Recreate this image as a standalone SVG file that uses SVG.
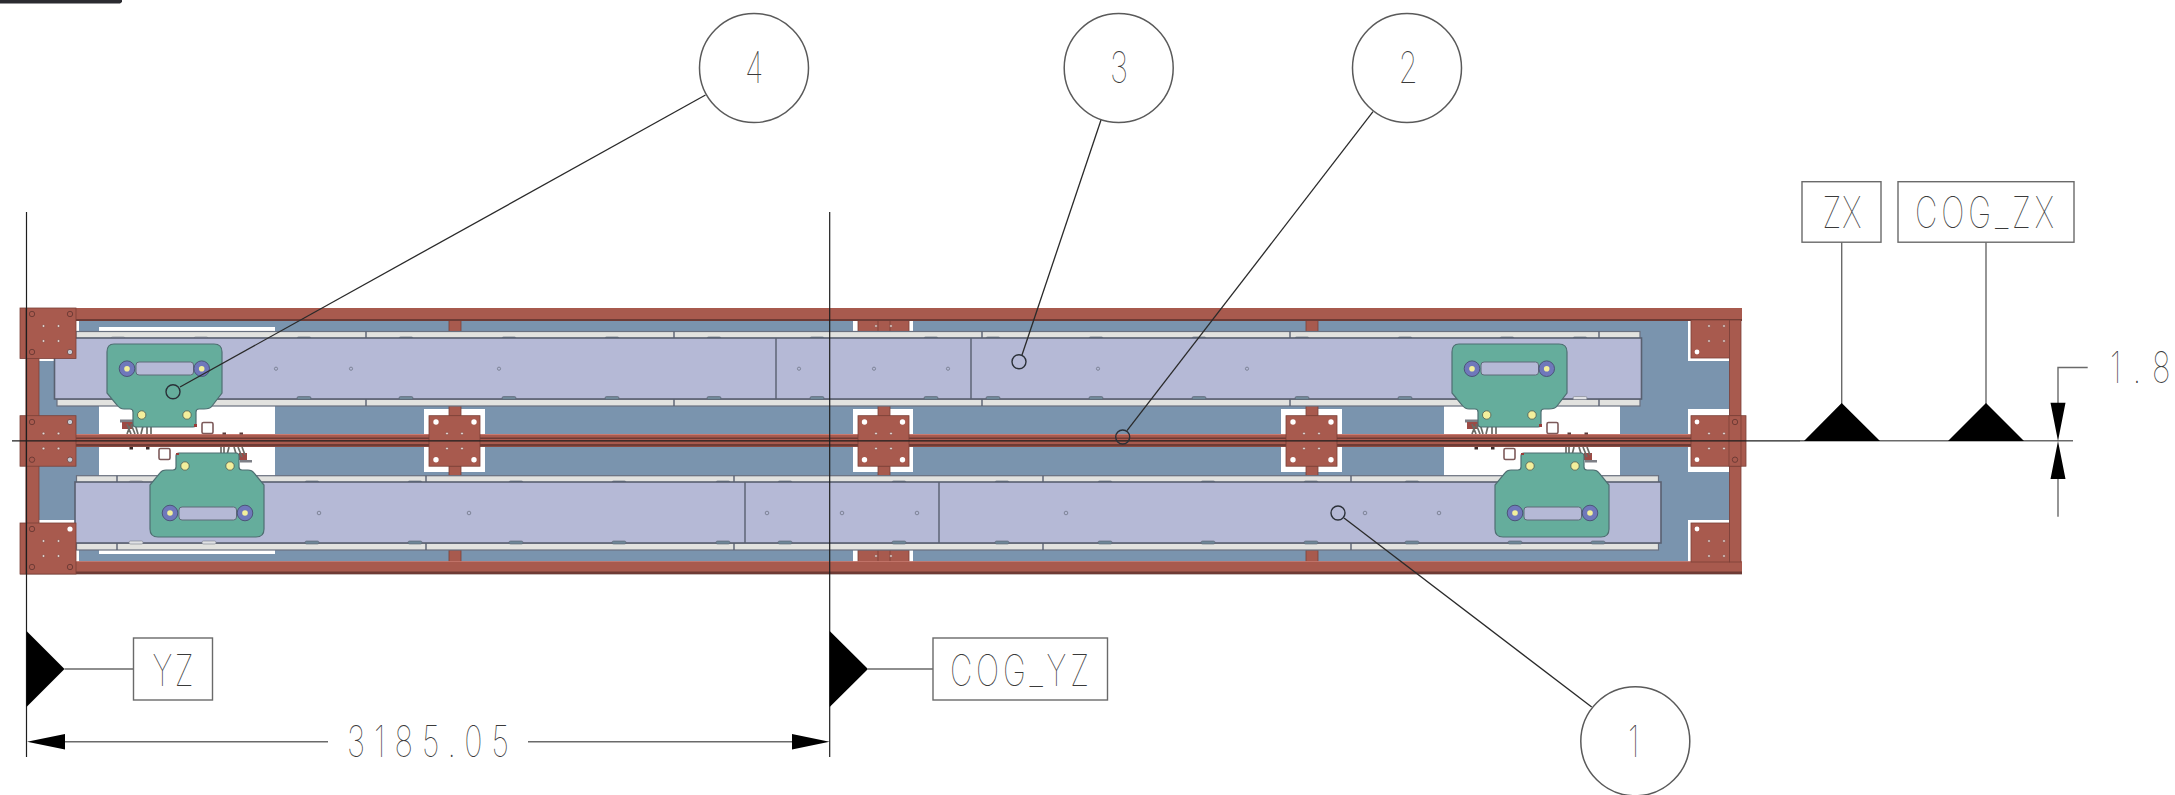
<svg xmlns="http://www.w3.org/2000/svg" xmlns:xlink="http://www.w3.org/1999/xlink" width="2175" height="795" viewBox="0 0 2175 795">
<style>
.red{fill:#a85a4e;stroke:#7a4038;stroke-width:.8}
.redn{fill:#a85a4e}
.dk{fill:#6e3b35}
.blue{fill:#7a94ae}
.wh{fill:#fff}
.rail{fill:#e2e2df;stroke:#69707f;stroke-width:1.2}
.panel{fill:#b5b9d6;stroke:#596070;stroke-width:1.6}
.sep{stroke:#596070;stroke-width:1.4;fill:none}
.green{fill:#65ad9c;stroke:#4f6f72;stroke-width:1.2}
.slot{fill:#b5b9d6;stroke:#5f6b78;stroke-width:1}
.ring{fill:#6f78bb;stroke:#4c5478;stroke-width:1}
.yel{fill:#f3ef9c;stroke:#4f5b50;stroke-width:.8}
.yc{fill:#f3ef9c}
.hole{fill:none;stroke:#703c36;stroke-width:1}
.hw{fill:#fff;stroke:#7d5a5a;stroke-width:1.6}
.pin{fill:#e8dcd8;stroke:#7a4038;stroke-width:.5}
.dot{fill:#b5b9d6;stroke:#717789;stroke-width:.8}
.tab{fill:#6f8798;stroke:#59626f;stroke-width:.6}
.tabl{fill:#dfe0e4;stroke:#7b808c;stroke-width:.6}
.ln{fill:none;stroke:#1e1e1e;stroke-width:1.2}
.ldr{fill:none;stroke:#2a2a2a;stroke-width:1.3}
.gl{fill:none;stroke:#6a6a6a;stroke-width:1.4}
.box{fill:#fff;stroke:#6a6a6a;stroke-width:1.4}
.bal{fill:#fff;stroke:#5a5a5a;stroke-width:1.5}
.end{fill:none;stroke:#2a3038;stroke-width:1.4}
.ah{fill:#000}
.t{font-family:Inter,"Liberation Sans",sans-serif;font-weight:100;font-size:43px;fill:#3a3a3a}
</style>
<defs>
<g id="plateholes">
<circle class="pin" cx="11" cy="11" r="1.3"/><circle class="pin" cx="26" cy="11" r="1.3"/><circle class="pin" cx="11" cy="26" r="1.3"/><circle class="pin" cx="26" cy="26" r="1.3"/>
</g>
<g id="upperGreen">
<path class="green" d="M114 344H214Q222 344 222 352V393L212 406Q210 409 204 409H199Q196 409 196 412V424Q196 427 193 427H136Q133 427 133 424V412Q133 409 130 409H124Q120 409 117 405L107 393V352Q107 344 114 344Z"/>
<rect class="slot" x="136" y="362" width="57.500" height="13" rx="3"/>
<circle class="ring" cx="127" cy="368.700" r="7.800"/><circle class="yc" cx="127" cy="368.700" r="2.800"/>
<circle class="ring" cx="201.700" cy="368.700" r="7.800"/><circle class="yc" cx="201.700" cy="368.700" r="2.800"/>
<circle class="yel" cx="141.700" cy="415" r="4.200"/><circle class="yel" cx="187" cy="415" r="4.200"/>
<path fill="#9a3d3a" d="M194 424h3v3h-3z"/>
</g>
<g id="lowerGreen">
<path class="green" d="M179 453H236Q239 453 239 456V467Q239 470 242 470H248Q252 470 254 473L264 485V529Q264 537 256 537H158Q150 537 150 529V485L160 473Q162 470 166 470H173Q176 470 176 467V456Q176 453 179 453Z"/>
<rect class="slot" x="179" y="507" width="57.500" height="13" rx="3"/>
<circle class="ring" cx="170" cy="513" r="7.800"/><circle class="yc" cx="170" cy="513" r="2.800"/>
<circle class="ring" cx="245" cy="513" r="7.800"/><circle class="yc" cx="245" cy="513" r="2.800"/>
<circle class="yel" cx="185" cy="466" r="4.200"/><circle class="yel" cx="230" cy="466" r="4.200"/>
<path fill="#9a3d3a" d="M176 453h3v2h-3z"/>
</g>
<g id="hardware">
<rect fill="#7d7f86" x="120" y="419.500" width="15" height="3"/>
<rect fill="#9c4a45" x="122" y="422" width="11" height="7"/>
<path d="M127 424l4 10M131 424l4 10M135 424l3 10M143 426l-2 8M147 426v8M151 426v8M127 434l3-8" stroke="#6b6b66" stroke-width="1.700" fill="none"/>
<rect class="hw" x="202" y="422.500" width="11" height="11" rx="1.500"/>
<rect class="hw" x="159" y="448.500" width="11" height="11" rx="1.500"/>
<rect fill="#3a2a2a" x="129.500" y="447" width="3.500" height="2.500"/><rect fill="#3a2a2a" x="146" y="447" width="3.500" height="2.500"/>
<rect fill="#5a3a38" x="222.500" y="432.500" width="3.500" height="2"/><rect fill="#5a3a38" x="239.500" y="432.500" width="3.500" height="2"/>
<rect fill="#9c4a45" x="239" y="453" width="8" height="7"/>
<rect fill="#7d7f86" x="240" y="460" width="12" height="2.500"/>
<path d="M221 447v8M224 447v8M229 447l-2 8M234 447l3 10M238 447l4 10M242 447l3 8" stroke="#6b6b66" stroke-width="1.700" fill="none"/>
</g>
</defs>

<g id="sheet-mark"><path fill="#2b2b30" d="M0 0H122V2L120 3.500H0Z"/></g>

<g id="frame">
<rect class="blue" x="39" y="320" width="1691" height="242"/>
<g class="wh">
<rect x="99" y="327" width="176" height="5"/>
<rect x="99" y="406" width="176" height="70"/>
<rect x="99" y="549" width="176" height="5"/>
<rect x="1444" y="406" width="176" height="70"/>
<rect x="853" y="320" width="60" height="12"/>
<rect x="853" y="409" width="60" height="63"/>
<rect x="853" y="550" width="60" height="12"/>
<rect x="424" y="409" width="61" height="63"/>
<rect x="1281" y="409" width="61" height="63"/>
<rect x="1688" y="320" width="41" height="41"/>
<rect x="1688" y="409" width="41" height="63"/>
<rect x="1688" y="520" width="41" height="42"/>
<rect x="39" y="358" width="37" height="3"/>
<rect x="39" y="520" width="37" height="3"/>
<rect x="76" y="320" width="3" height="12"/>
<rect x="76" y="550" width="3" height="12"/>
</g>
<g class="red">
<rect x="449" y="320" width="12" height="12"/><rect x="449" y="405" width="12" height="11"/><rect x="449" y="466" width="12" height="10"/><rect x="449" y="550" width="12" height="12"/>
<rect x="1306" y="320" width="12" height="12"/><rect x="1306" y="405" width="12" height="11"/><rect x="1306" y="466" width="12" height="10"/><rect x="1306" y="550" width="12" height="12"/>
<rect x="858" y="320" width="51" height="12"/><rect x="878" y="320" width="12" height="12"/>
<rect x="878" y="405" width="12" height="11"/><rect x="878" y="466" width="12" height="10"/>
<rect x="858" y="550" width="51" height="12"/><rect x="878" y="550" width="12" height="12"/>
</g>
<circle class="pin" cx="876" cy="326" r="1.300"/><circle class="pin" cx="891" cy="326" r="1.300"/><circle class="pin" cx="876" cy="556" r="1.300"/><circle class="pin" cx="891" cy="556" r="1.300"/>
<rect class="redn" x="20" y="308" width="1722" height="12.500"/>
<rect class="dk" x="76" y="319" width="1666" height="2"/>
<rect class="redn" x="20" y="561.500" width="1722" height="12.500"/>
<rect class="dk" x="20" y="571.500" width="1722" height="2.500"/>
<rect fill="#c6b9b6" x="20" y="574" width="1722" height="1"/>
<rect fill="#c97a70" x="20" y="561" width="1722" height=".8"/>
<rect class="red" x="26.500" y="358" width="12.500" height="170"/>
<rect class="red" x="1729.500" y="320" width="11.500" height="242"/>
</g>

<g id="upper-track">
<rect class="rail" x="76" y="331.500" width="1564" height="7"/>
<rect class="rail" x="57" y="399" width="1583" height="7"/>
<path class="sep" d="M366 331.500v7M674 331.500v7M982 331.500v7M1290 331.500v7M1599 331.500v7M366 399v7M674 399v7M982 399v7M1290 399v7M1599 399v7"/>
<g class="tab">
<rect x="297" y="337" width="14" height="3" rx="1.500"/><rect x="399" y="337" width="14" height="3" rx="1.500"/><rect x="502" y="337" width="14" height="3" rx="1.500"/><rect x="605" y="337" width="14" height="3" rx="1.500"/><rect x="707" y="337" width="14" height="3" rx="1.500"/><rect x="810" y="337" width="14" height="3" rx="1.500"/><rect x="924" y="337" width="14" height="3" rx="1.500"/><rect x="986" y="337" width="14" height="3" rx="1.500"/><rect x="1089" y="337" width="14" height="3" rx="1.500"/><rect x="1192" y="337" width="14" height="3" rx="1.500"/><rect x="1295" y="337" width="14" height="3" rx="1.500"/><rect x="1398" y="337" width="14" height="3" rx="1.500"/><rect x="1500" y="337" width="14" height="3" rx="1.500"/><rect x="1573" y="337" width="14" height="3" rx="1.500"/>
</g>
<g class="tabl"><rect x="111" y="337" width="14" height="3" rx="1.500"/><rect x="194" y="337" width="14" height="3" rx="1.500"/></g>
<rect class="panel" x="54.500" y="338" width="1587" height="61"/>
<path class="sep" d="M776 338v61M971 338v61"/>
<g class="tab">
<rect x="297" y="396.500" width="14" height="3" rx="1.500"/><rect x="399" y="396.500" width="14" height="3" rx="1.500"/><rect x="502" y="396.500" width="14" height="3" rx="1.500"/><rect x="605" y="396.500" width="14" height="3" rx="1.500"/><rect x="707" y="396.500" width="14" height="3" rx="1.500"/><rect x="810" y="396.500" width="14" height="3" rx="1.500"/><rect x="924" y="396.500" width="14" height="3" rx="1.500"/><rect x="986" y="396.500" width="14" height="3" rx="1.500"/><rect x="1089" y="396.500" width="14" height="3" rx="1.500"/><rect x="1192" y="396.500" width="14" height="3" rx="1.500"/><rect x="1295" y="396.500" width="14" height="3" rx="1.500"/><rect x="1398" y="396.500" width="14" height="3" rx="1.500"/>
</g>
<rect class="tabl" x="1573" y="396.500" width="14" height="3" rx="1.500"/>
<g class="dot"><circle cx="276" cy="368.700" r="1.600"/><circle cx="351" cy="368.700" r="1.600"/><circle cx="499" cy="368.700" r="1.600"/><circle cx="799" cy="368.700" r="1.600"/><circle cx="874" cy="368.700" r="1.600"/><circle cx="948" cy="368.700" r="1.600"/><circle cx="1098" cy="368.700" r="1.600"/><circle cx="1247" cy="368.700" r="1.600"/></g>
</g>

<g id="lower-track">
<rect class="rail" x="76.500" y="475.700" width="1582" height="7"/>
<rect class="rail" x="76.500" y="543" width="1582" height="7"/>
<path class="sep" d="M117 475.700v7M426 475.700v7M734 475.700v7M1043 475.700v7M1351 475.700v7M117 543v7M426 543v7M734 543v7M1043 543v7M1351 543v7"/>
<g class="tab">
<rect x="305" y="481" width="14" height="3" rx="1.500"/><rect x="408" y="481" width="14" height="3" rx="1.500"/><rect x="509" y="481" width="14" height="3" rx="1.500"/><rect x="612" y="481" width="14" height="3" rx="1.500"/><rect x="716" y="481" width="14" height="3" rx="1.500"/><rect x="778" y="481" width="14" height="3" rx="1.500"/><rect x="892" y="481" width="14" height="3" rx="1.500"/><rect x="995" y="481" width="14" height="3" rx="1.500"/><rect x="1098" y="481" width="14" height="3" rx="1.500"/><rect x="1201" y="481" width="14" height="3" rx="1.500"/><rect x="1304" y="481" width="14" height="3" rx="1.500"/><rect x="1405" y="481" width="14" height="3" rx="1.500"/>
</g>
<rect class="tabl" x="129" y="481" width="14" height="3" rx="1.500"/>
<rect class="panel" x="75" y="482" width="1586" height="61"/>
<path class="sep" d="M745 482v61M939 482v61"/>
<g class="tab">
<rect x="305" y="541" width="14" height="3" rx="1.500"/><rect x="408" y="541" width="14" height="3" rx="1.500"/><rect x="509" y="541" width="14" height="3" rx="1.500"/><rect x="612" y="541" width="14" height="3" rx="1.500"/><rect x="716" y="541" width="14" height="3" rx="1.500"/><rect x="778" y="541" width="14" height="3" rx="1.500"/><rect x="892" y="541" width="14" height="3" rx="1.500"/><rect x="995" y="541" width="14" height="3" rx="1.500"/><rect x="1098" y="541" width="14" height="3" rx="1.500"/><rect x="1201" y="541" width="14" height="3" rx="1.500"/><rect x="1304" y="541" width="14" height="3" rx="1.500"/><rect x="1405" y="541" width="14" height="3" rx="1.500"/><rect x="1508" y="541" width="14" height="3" rx="1.500"/><rect x="1591" y="541" width="14" height="3" rx="1.500"/>
</g>
<g class="tabl"><rect x="129" y="541" width="14" height="3" rx="1.500"/><rect x="202" y="541" width="14" height="3" rx="1.500"/></g>
<g class="dot"><circle cx="319" cy="513" r="1.800"/><circle cx="469" cy="513" r="1.800"/><circle cx="767" cy="513" r="1.800"/><circle cx="842" cy="513" r="1.800"/><circle cx="917" cy="513" r="1.800"/><circle cx="1066" cy="513" r="1.800"/><circle cx="1365" cy="513" r="1.800"/><circle cx="1439" cy="513" r="1.800"/></g>
</g>

<g id="centre-beam">
<rect class="redn" x="76" y="434" width="1615" height="13"/>
<rect fill="#c97a70" x="76" y="434" width="1615" height="1"/>
<rect class="dk" x="76" y="437.500" width="1615" height="1.500"/>
<rect class="dk" x="76" y="444" width="1615" height="2.500"/>
</g>

<g id="hardware-left"><use xlink:href="#hardware" href="#hardware"/></g>
<g id="hardware-right"><use xlink:href="#hardware" href="#hardware" x="1345"/></g>
<g id="green-ul"><use xlink:href="#upperGreen" href="#upperGreen"/></g>
<g id="green-ll"><use xlink:href="#lowerGreen" href="#lowerGreen"/></g>
<g id="green-ur"><use xlink:href="#upperGreen" href="#upperGreen" x="1345"/></g>
<g id="green-lr"><use xlink:href="#lowerGreen" href="#lowerGreen" x="1345"/></g>

<g id="plates">
<g class="red">
<rect x="20" y="308" width="56" height="50.500"/><rect x="20" y="415.700" width="56" height="50.500"/><rect x="20" y="523" width="56" height="51"/>
<rect x="429" y="415.700" width="51" height="50.500"/><rect x="858" y="415.700" width="51" height="50.500"/><rect x="1286" y="415.700" width="51" height="50.500"/>
<rect x="1691" y="320" width="38.500" height="38"/><rect x="1691" y="415.700" width="55" height="50.500"/><rect x="1691" y="523" width="38.500" height="39"/>
<rect x="1729" y="415.700" width="12" height="50.500"/>
</g>
<rect class="dk" x="25.500" y="308" width=".8" height="266"/>
<g class="hole">
<circle cx="32" cy="314" r="2.700"/><circle cx="70" cy="314" r="2.700"/><circle cx="32" cy="352" r="2.700"/>
<circle cx="32" cy="422" r="2.700"/><circle cx="32" cy="459.700" r="2.700"/>
<circle cx="32" cy="529" r="2.700"/><circle cx="32" cy="567" r="2.700"/><circle cx="70" cy="567" r="2.700"/>
<circle cx="1735" cy="422" r="2.700"/><circle cx="1735" cy="459.700" r="2.700"/>
</g>
<g fill="#c5c9d2" stroke="#703c36" stroke-width=".8"><circle cx="70" cy="352" r="2.700"/><circle cx="70" cy="422" r="2.700"/><circle cx="70" cy="459.700" r="2.700"/></g>
<g class="wh">
<circle cx="70" cy="529" r="2.600"/>
<circle cx="436" cy="422" r="2.700"/><circle cx="474" cy="422" r="2.700"/><circle cx="436" cy="459.700" r="2.700"/><circle cx="474" cy="459.700" r="2.700"/>
<circle cx="864.500" cy="422" r="2.700"/><circle cx="902.500" cy="422" r="2.700"/><circle cx="864.500" cy="459.700" r="2.700"/><circle cx="902.500" cy="459.700" r="2.700"/>
<circle cx="1293" cy="422" r="2.700"/><circle cx="1331" cy="422" r="2.700"/><circle cx="1293" cy="459.700" r="2.700"/><circle cx="1331" cy="459.700" r="2.700"/>
<circle cx="1697" cy="352" r="2.400"/><circle cx="1697" cy="422" r="2.400"/><circle cx="1697" cy="459.700" r="2.400"/><circle cx="1697" cy="529" r="2.400"/>
</g>
<use xlink:href="#plateholes" href="#plateholes" x="32.500" y="315"/>
<use xlink:href="#plateholes" href="#plateholes" x="32.500" y="422.500"/>
<use xlink:href="#plateholes" href="#plateholes" x="32.500" y="530"/>
<use xlink:href="#plateholes" href="#plateholes" x="436" y="422.500"/>
<use xlink:href="#plateholes" href="#plateholes" x="865" y="422.500"/>
<use xlink:href="#plateholes" href="#plateholes" x="1293" y="422.500"/>
<use xlink:href="#plateholes" href="#plateholes" x="1698" y="315"/>
<use xlink:href="#plateholes" href="#plateholes" x="1698" y="422.500"/>
<use xlink:href="#plateholes" href="#plateholes" x="1698" y="530"/>
</g>

<g id="connectors">
<path class="ln" d="M12 440.800H1800"/>
<path class="gl" d="M1800 440.800H2073"/>
<path class="ln" d="M26.500 212V757M829.700 212V757"/>
<path class="ldr" d="M705.500 95L180 387"/>
<circle class="end" cx="173" cy="391.700" r="7"/>
<path class="ldr" d="M1101 120L1022 355"/>
<circle class="end" cx="1019" cy="361.700" r="7"/>
<path class="ldr" d="M1373 111.700L1127 430.700"/>
<circle class="end" cx="1122.700" cy="437" r="7"/>
<path class="ldr" d="M1591.700 707L1344 518"/>
<circle class="end" cx="1338" cy="513" r="7"/>
<path class="gl" d="M64.500 669H133.500M868 669H933"/>
<path class="gl" d="M1841.700 242V404M1986 242V404"/>
<path class="gl" d="M64 741.700H328M528 741.700H793"/>
<path class="gl" d="M2087.700 367.500H2058V404M2058 478V516.700"/>
<path class="ah" d="M26.500 631L64.500 669L26.500 707ZM829.700 631L868 669L829.700 707Z"/>
<path class="ah" d="M1804 441L1841.700 403L1880 441ZM1948 441L1986 403L2024 441Z"/>
<path class="ah" d="M27 741.700L65 734V749.500ZM829.500 741.700L792 734V749.500Z"/>
<path class="ah" d="M2050.500 402.700H2065.500L2058 441ZM2050.500 479H2065.500L2058 441Z"/>
</g>

<g id="balloon-4"><circle class="bal" cx="754" cy="68" r="54.500"/><text class="t" transform="translate(745 82.700) scale(.72 1)">4</text></g>
<g id="balloon-3"><circle class="bal" cx="1118.700" cy="68" r="54.500"/><text class="t" transform="translate(1110 82.700) scale(.72 1)">3</text></g>
<g id="balloon-2"><circle class="bal" cx="1407" cy="68" r="54.500"/><text class="t" transform="translate(1398.500 82.700) scale(.72 1)">2</text></g>
<g id="balloon-1"><circle class="bal" cx="1635.300" cy="741.300" r="54.500"/><text class="t" transform="translate(1628 756.700) scale(.72 1)">1</text></g>

<g id="datum-yz"><rect class="box" x="133.500" y="638" width="79" height="62"/><text class="t" transform="translate(152.500 685.700) scale(.72 1)" textLength="57" lengthAdjust="spacing">YZ</text></g>
<g id="datum-cog-yz"><rect class="box" x="933" y="638" width="174.500" height="62"/><text class="t" transform="translate(950 685.700) scale(.72 1)" textLength="193" lengthAdjust="spacing">COG_YZ</text></g>
<g id="datum-zx"><rect class="box" x="1802" y="181.700" width="79" height="60.500"/><text class="t" transform="translate(1822.500 228) scale(.72 1)" textLength="54" lengthAdjust="spacing">ZX</text></g>
<g id="datum-cog-zx"><rect class="box" x="1898" y="181.700" width="176" height="60.500"/><text class="t" transform="translate(1915 228) scale(.72 1)" textLength="193" lengthAdjust="spacing">COG_ZX</text></g>
<g id="dim-3185"><text class="t" transform="translate(347 757) scale(.72 1)" textLength="225" lengthAdjust="spacing">3185.05</text></g>
<g id="dim-1-8"><text class="t" transform="translate(2110 382.700) scale(.72 1)" textLength="84" lengthAdjust="spacing">1.8</text></g>
</svg>
